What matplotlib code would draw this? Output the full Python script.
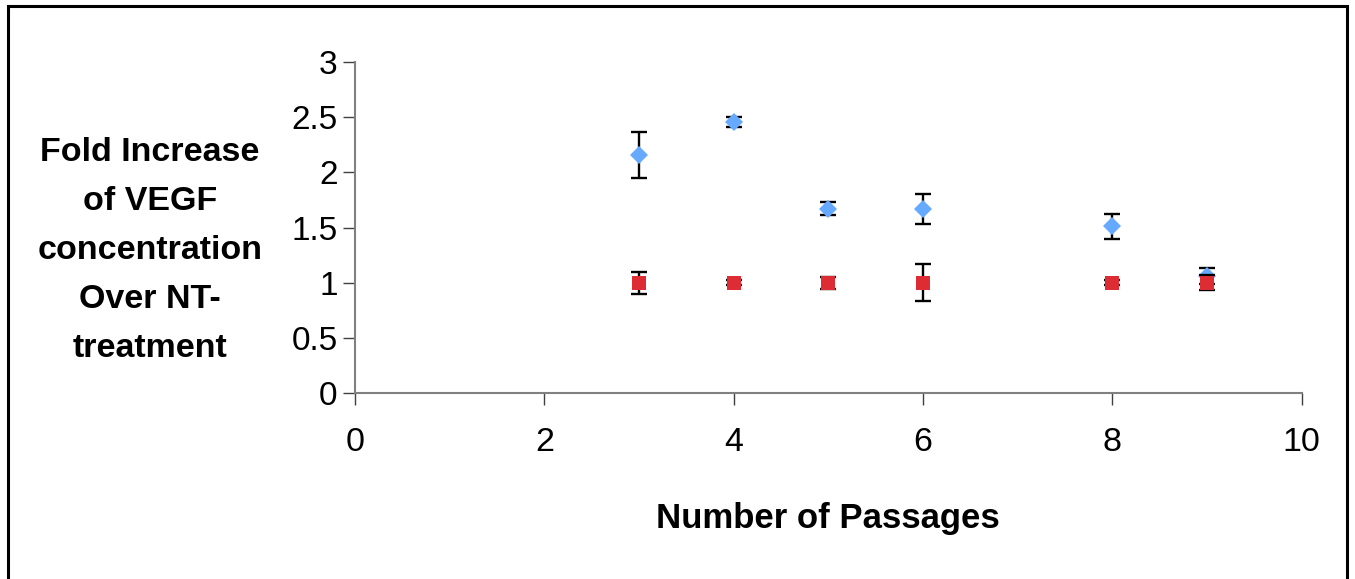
import matplotlib
matplotlib.use("Agg")
import matplotlib.pyplot as plt
from matplotlib.patches import Rectangle

plt.rcParams['font.family'] = ['Liberation Sans', 'DejaVu Sans']

# data
passages = [3, 4, 5, 6, 8, 9]
vegf_fold = [2.16, 2.46, 1.67, 1.67, 1.51, 1.06]
vegf_err = [0.21, 0.045, 0.06, 0.135, 0.115, 0.07]
nt_fold = [1.0, 1.0, 1.0, 1.0, 1.0, 1.0]
nt_err = [0.10, 0.02, 0.055, 0.17, 0.02, 0.07]

blue = '#66aaff'
red = '#dd2c33'
axis_gray = '#808080'

fig = plt.figure(figsize=(13.55, 5.79), dpi=100)
ax = fig.add_axes([0.262, 0.3212, 0.6987, 0.5717])

# error bars behind markers (excel style)
ax.errorbar(passages, vegf_fold, yerr=vegf_err, fmt='none', ecolor='black',
            elinewidth=1.7, capsize=6, capthick=1.7, zorder=2)
ax.plot(passages, vegf_fold, linestyle='none', marker='D', markersize=9.3,
        color=blue, markeredgewidth=0, zorder=3)
ax.errorbar(passages, nt_fold, yerr=nt_err, fmt='none', ecolor='black',
            elinewidth=1.7, capsize=6, capthick=1.7, zorder=4)
ax.plot(passages, nt_fold, linestyle='none', marker='s', markersize=9.6,
        color=red, markeredgewidth=0, zorder=5)

ax.set_xlim(0, 10)
ax.set_ylim(0, 3)
ax.set_xticks([0, 2, 4, 6, 8, 10])
ax.set_yticks([0, 0.5, 1, 1.5, 2, 2.5, 3])
ax.set_yticklabels(['0', '0.5', '1', '1.5', '2', '2.5', '3'])

for side in ['top', 'right']:
    ax.spines[side].set_visible(False)
for side in ['left', 'bottom']:
    ax.spines[side].set_color(axis_gray)
    ax.spines[side].set_linewidth(1.5)
ax.tick_params(axis='both', direction='out', length=8.5, width=1, color='#404040',
               labelcolor='black')
ax.tick_params(axis='x', pad=16, labelsize=24.5)
ax.tick_params(axis='y', pad=4, labelsize=24)

fig.text(0.1107, 0.567, 'Fold Increase\nof VEGF\nconcentration\nOver NT-\ntreatment',
         ha='center', va='center', multialignment='center', fontsize=24.5,
         fontweight='bold', linespacing=1.75)
fig.text(0.611, 0.104, 'Number of Passages', ha='center', va='center',
         fontsize=25, fontweight='bold')

# outer chart frame
fig.patches.append(Rectangle((8 / 1355, -0.05), 1339 / 1355, 1.05 - 6 / 579,
                             transform=fig.transFigure, fill=False,
                             edgecolor='black', linewidth=2.2, clip_on=False))

fig.savefig('out.png', dpi=100)
